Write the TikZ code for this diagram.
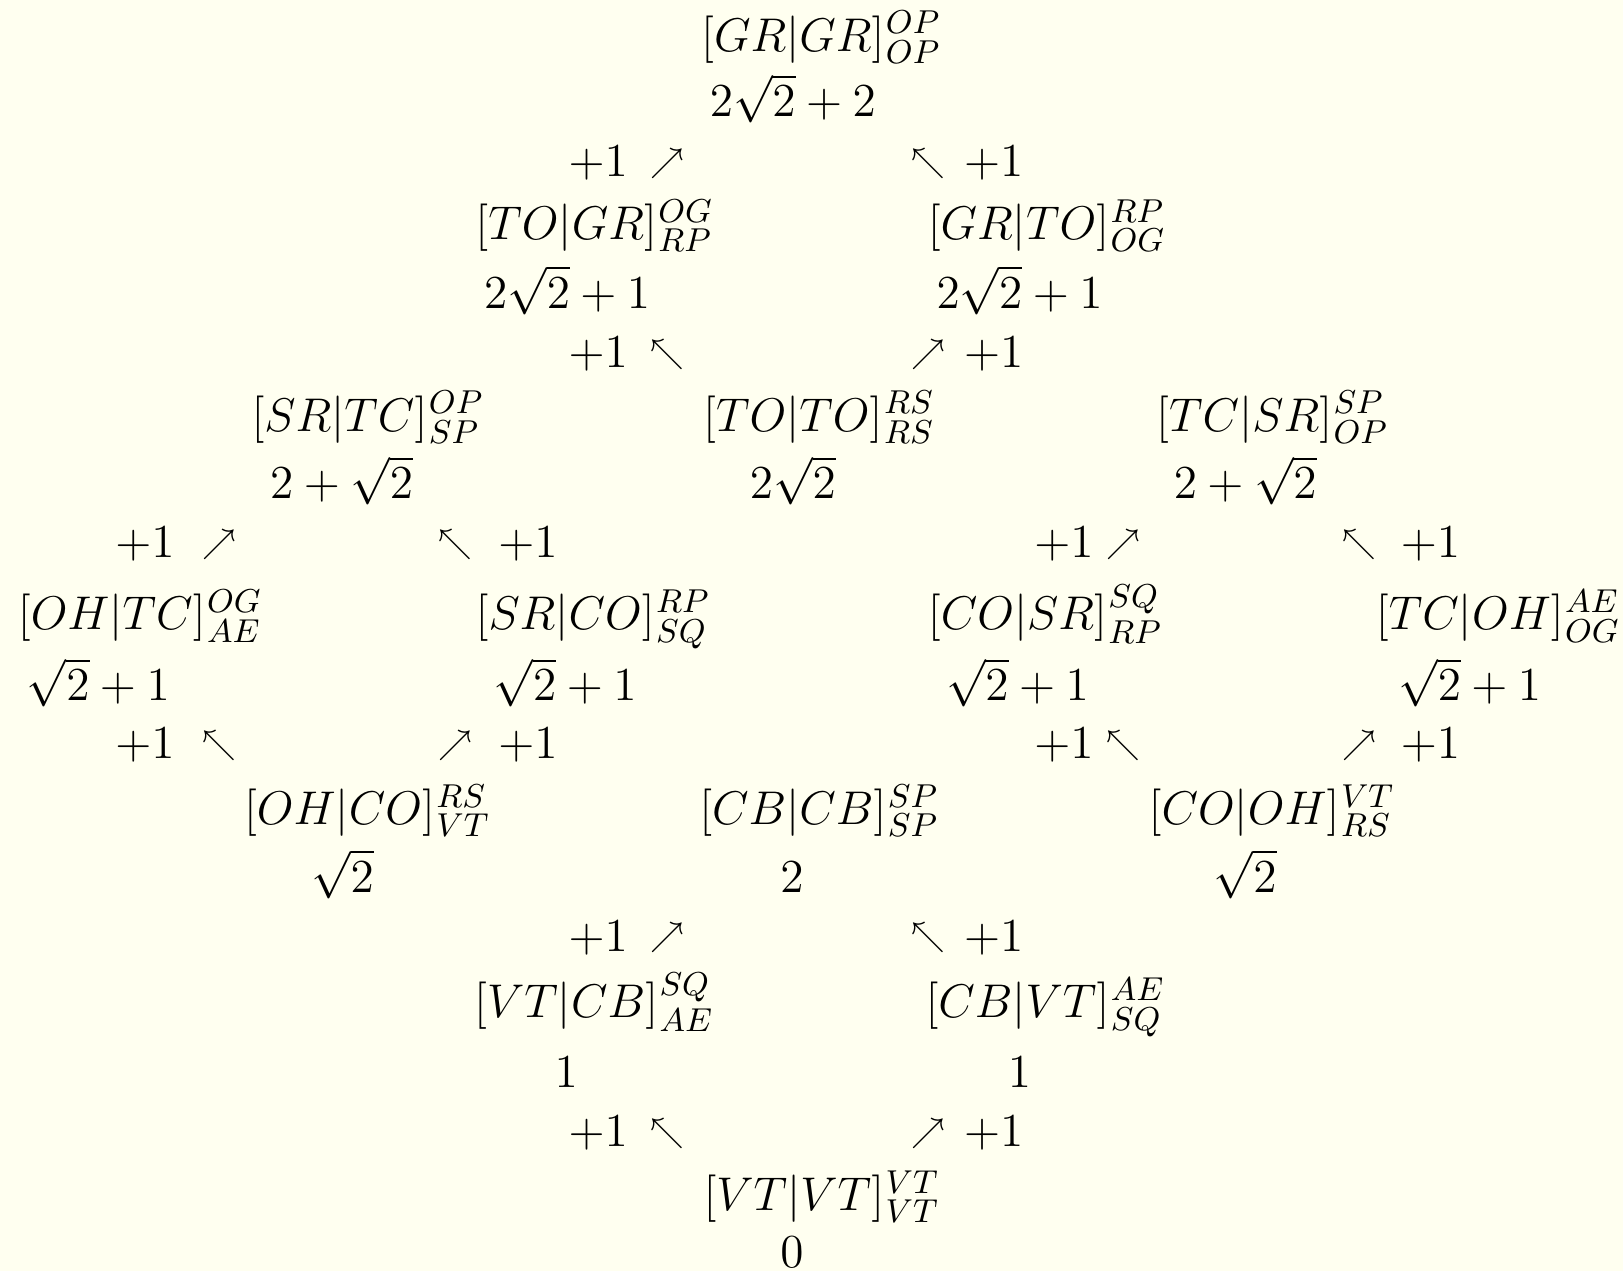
\RequirePackage{fix-cm}
\documentclass[tikz,border=0pt]{standalone}
\usepackage{amsmath}
\definecolor{bg}{RGB}{255,255,240}
% #1 name, #2 position, #3|#4 inside brackets, #5 superscript, #6 subscript
\newcommand\ent[6]{%
  \node[expr] (#1) at (#2) {$[#3|#4]$};
  \node[scr] (#1s) at (#1.base east) {${}^{#5}_{#6}$};}
\begin{document}
\begin{tikzpicture}[x=0.01cm,y=-0.01cm,
  expr/.style={inner sep=0pt, anchor=center, font=\fontsize{13}{15}\selectfont},
  scr/.style={inner sep=0pt, anchor=base west, font=\fontsize{13}{15}\selectfont},
  val/.style={inner sep=0pt, anchor=base, font=\fontsize{13}{15}\selectfont},
  inc/.style={inner sep=0pt, anchor=center, font=\fontsize{13}{15}\selectfont},
  arr/.style={inner sep=0pt, anchor=center, font=\fontsize{9}{10}\selectfont}]
\fill[bg] (0,0) rectangle (1568,1228);
\useasboundingbox (0,0) rectangle (1568,1228);

% Row A
\ent{grgr}{766,38}{GR}{GR}{OP}{OP}
\node[val] (vgrgr) at (766,113) {$2\sqrt{2}+2$};
% arrows row 1
\node[inc] (i1a) at (578,158) {$+1$};
\node[arr] (a1a) at (645,158) {$\nearrow$};
\node[arr] (a1b) at (897,158) {$\nwarrow$};
\node[inc] (i1b) at (960,158) {$+1$};
% Row B
\ent{togr}{547,220}{TO}{GR}{OG}{RP}
\node[val] (vtogr) at (548,298) {$2\sqrt{2}+1$};
\ent{grto}{984,220}{GR}{TO}{RP}{OG}
\node[val] (vgrto) at (985,298) {$2\sqrt{2}+1$};
% arrows row 2
\node[inc] (i2a) at (578,342) {$+1$};
\node[arr] (a2a) at (645,342) {$\nwarrow$};
\node[arr] (a2b) at (897,342) {$\nearrow$};
\node[inc] (i2b) at (960,342) {$+1$};
% Row C
\ent{srtc}{328,405}{SR}{TC}{OP}{SP}
\node[val] (vsrtc) at (330,482) {$2+\sqrt{2}$};
\ent{toto}{766,405}{TO}{TO}{RS}{RS}
\node[val] (vtoto) at (766,482) {$2\sqrt{2}$};
\ent{tcsr}{1202,405}{TC}{SR}{SP}{OP}
\node[val] (vtcsr) at (1203,482) {$2+\sqrt{2}$};
% arrows row 3
\node[inc] (i3a) at (140,526) {$+1$};
\node[arr] (a3a) at (212,526) {$\nearrow$};
\node[arr] (a3b) at (440,526) {$\nwarrow$};
\node[inc] (i3b) at (510,526) {$+1$};
\node[inc] (i3c) at (1028,526) {$+1$};
\node[arr] (a3c) at (1085,526) {$\nearrow$};
\node[arr] (a3d) at (1313,526) {$\nwarrow$};
\node[inc] (i3d) at (1382,526) {$+1$};
% Row D
\ent{ohtc}{108,597}{OH}{TC}{OG}{AE}
\node[val] (vohtc) at (95,677) {$\sqrt{2}+1$};
\ent{srco}{546,597}{SR}{CO}{RP}{SQ}
\node[val] (vsrco) at (546,677) {$\sqrt{2}+1$};
\ent{cosr}{983,597}{CO}{SR}{SQ}{RP}
\node[val] (vcosr) at (983,677) {$\sqrt{2}+1$};
\ent{tcoh}{1420,597}{TC}{OH}{AE}{OG}
\node[val] (vtcoh) at (1420,677) {$\sqrt{2}+1$};
% arrows row 4
\node[inc] (i4a) at (140,720) {$+1$};
\node[arr] (a4a) at (212,720) {$\nwarrow$};
\node[arr] (a4b) at (440,720) {$\nearrow$};
\node[inc] (i4b) at (510,720) {$+1$};
\node[inc] (i4c) at (1028,720) {$+1$};
\node[arr] (a4c) at (1085,720) {$\nwarrow$};
\node[arr] (a4d) at (1313,720) {$\nearrow$};
\node[inc] (i4d) at (1382,720) {$+1$};
% Row E
\ent{ohco}{328,785}{OH}{CO}{RS}{VT}
\node[val] (vohco) at (331,862) {$\sqrt{2}$};
\ent{cbcb}{766,785}{CB}{CB}{SP}{SP}
\node[val] (vcbcb) at (765,862) {$2$};
\ent{cooh}{1202,785}{CO}{OH}{VT}{RS}
\node[val] (vcooh) at (1203,862) {$\sqrt{2}$};
% arrows row 5
\node[inc] (i5a) at (578,906) {$+1$};
\node[arr] (a5a) at (645,906) {$\nearrow$};
\node[arr] (a5b) at (897,906) {$\nwarrow$};
\node[inc] (i5b) at (960,906) {$+1$};
% Row F
\ent{vtcb}{547,972}{VT}{CB}{SQ}{AE}
\node[val] (vvtcb) at (547,1051) {$1$};
\ent{cbvt}{983,972}{CB}{VT}{AE}{SQ}
\node[val] (vcbvt) at (985,1051) {$1$};
% arrows row 6
\node[inc] (i6a) at (578,1095) {$+1$};
\node[arr] (a6a) at (645,1095) {$\nwarrow$};
\node[arr] (a6b) at (897,1095) {$\nearrow$};
\node[inc] (i6b) at (960,1095) {$+1$};
% Row G
\ent{vtvt}{767,1158}{VT}{VT}{VT}{VT}
\node[val] (vvtvt) at (765,1225) {$0$};
\end{tikzpicture}
\end{document}
